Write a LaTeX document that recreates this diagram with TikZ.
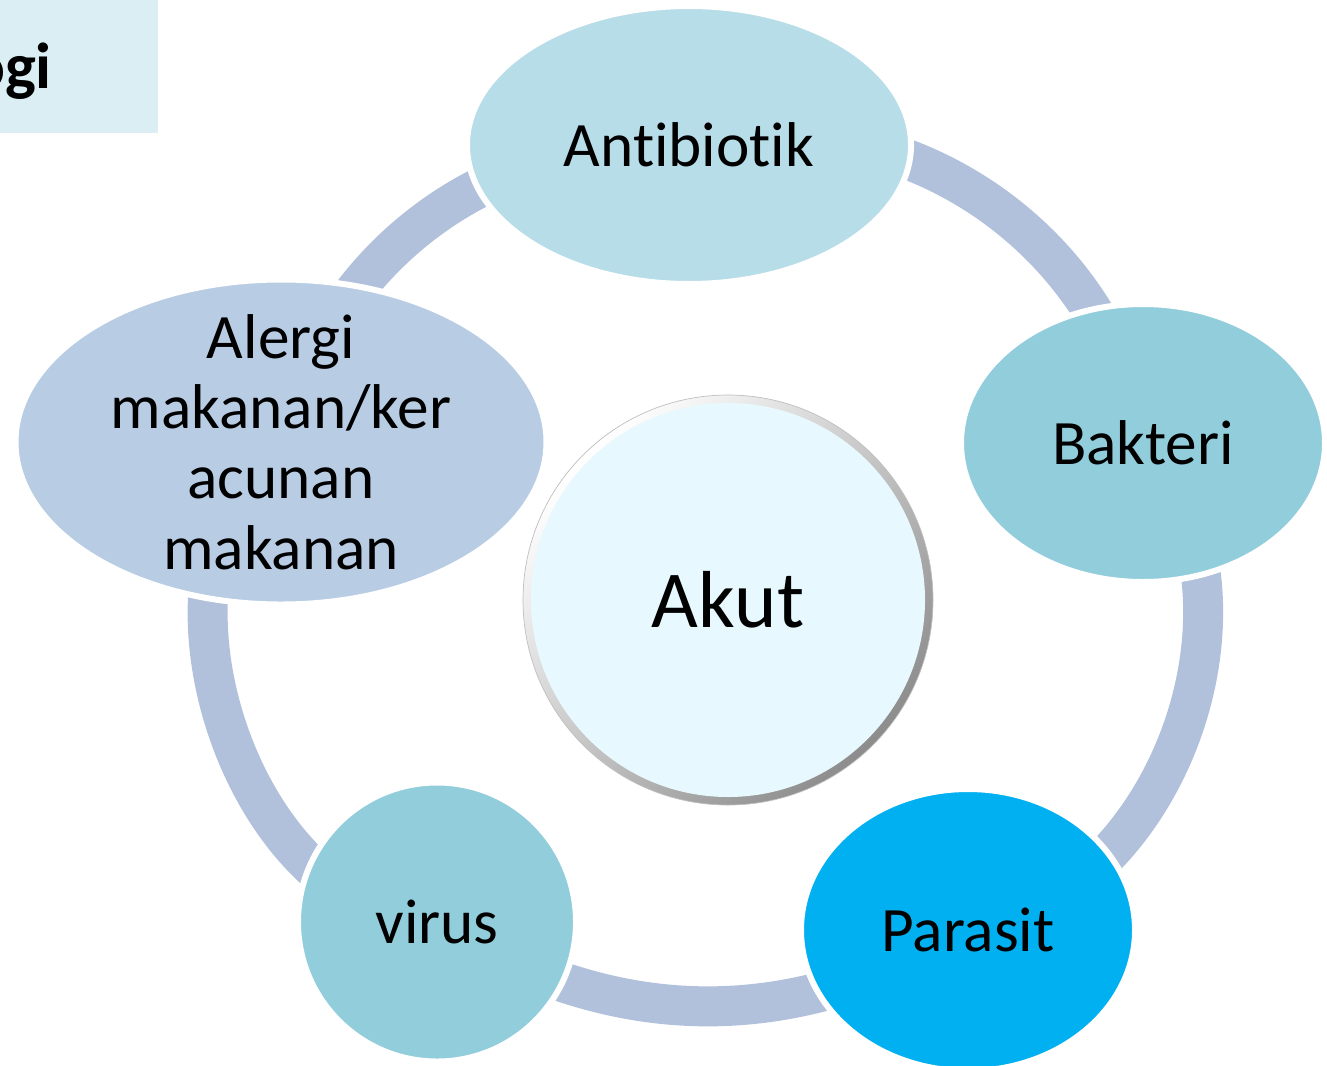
\documentclass[tikz,border=0pt]{standalone}
\usepackage{fontspec}
\setmainfont[Ligatures=NoCommon]{Carlito}
\usetikzlibrary{shapes.geometric, positioning, backgrounds}
\definecolor{titlefill}{HTML}{DAEEF3}
\definecolor{linkblue}{HTML}{B2C1DB}
\definecolor{paleblue}{HTML}{B7DDE8}
\definecolor{midblue}{HTML}{92CDDC}
\definecolor{brightblue}{HTML}{00B0F0}
\definecolor{greyblue}{HTML}{B8CCE4}
\definecolor{hubfill}{HTML}{E7F9FE}
\begin{document}
\begin{tikzpicture}

% Define styles
\tikzstyle{cause} = [ellipse, draw=white, line width=0.12cm, inner sep=0pt, font=\fontsize{36}{40}\selectfont, align=center]
\tikzstyle{link} = [line width=0.8cm, draw=linkblue]
\tikzstyle{hub} = [circle, minimum size=8.2cm, inner sep=0pt, draw=gray!50, line width=0.4pt, font=\fontsize{46}{50}\selectfont]

\useasboundingbox (0,0) rectangle (26.54,-21.3);

% Title corner
\fill [titlefill] (0,0) rectangle (3.16,-2.66);
\node [anchor=base east, font=\fontsize{37}{40}\selectfont\bfseries] (title) at (1.16,-1.76) {ogi};

% Causes around the ring
\node [cause, fill=paleblue, minimum width=8.88cm, minimum height=5.56cm] (antibiotik) at (13.78,-2.90) {Antibiotik};
\node [cause, fill=midblue, minimum width=7.28cm, minimum height=5.56cm] (bakteri) at (22.86,-8.86) {Bakteri};
\node [cause, fill=brightblue, minimum width=6.68cm, minimum height=5.64cm] (parasit) at (19.36,-18.6) {Parasit};
\node [cause, fill=midblue, minimum width=5.56cm, minimum height=5.58cm] (virus) at (8.74,-18.44) {virus};
\node [cause, fill=greyblue, minimum width=10.62cm, minimum height=6.5cm, inner ysep=-1.5cm] (alergi) at (5.62,-8.84) {Alergi\\makanan/ker\\acunan\\makanan};

% Centre
\node [hub, shade, shading=axis, top color=white, bottom color=gray!90, shading angle=45,
  path picture={\fill [hubfill] (path picture bounding box.center) circle (3.94cm);}] (akut) at (14.56,-12.0) {Akut};

% Ring
\begin{scope}[on background layer]
\draw [link] (antibiotik.center) to [bend left=47] (bakteri.center);
\draw [link] (bakteri.center) to [bend left=62] (parasit.center);
\draw [link] (parasit.center) to [bend left=31] (virus.center);
\draw [link] (virus.center) to [bend left=71] (alergi.center);
\draw [link] (alergi.center) to [bend left=39] (antibiotik.center);
\end{scope}

\end{tikzpicture}
\end{document}
